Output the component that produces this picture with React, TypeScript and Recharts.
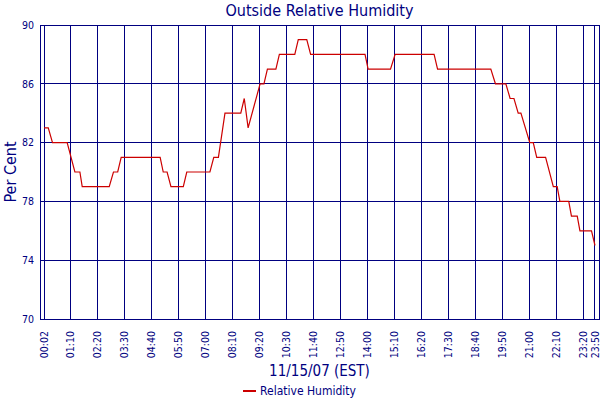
import { LineChart, Line, XAxis, YAxis, CartesianGrid, Legend, ReferenceArea, Label } from 'recharts'

const NAVY = '#000080'
const RED = '#cc0000'
const FONT = "'DejaVu Sans Condensed', 'DejaVu Sans', sans-serif"

// readings taken off the plot (time of day, per cent)
const times = [
  '00:02', '00:13', '00:24', '01:02', '01:22', '01:35', '01:41', '02:51', '03:02', '03:13',
  '03:22', '05:03', '05:11', '05:21', '05:31', '06:03', '06:12', '07:12', '07:22', '07:34',
  '07:51', '08:32', '08:41', '08:51', '09:22', '09:32', '09:41', '10:03', '10:12', '10:52',
  '11:01', '11:23', '11:33', '13:54', '14:02', '15:00', '15:12', '16:53', '17:02', '19:20',
  '19:32', '19:59', '20:10', '20:20', '20:31', '20:38', '21:01', '21:10', '21:19', '21:42',
  '22:02', '22:12', '22:19', '22:42', '22:49', '23:04', '23:11', '23:41', '23:50',
]
const humidity = [
  83, 83, 82, 82, 80, 80, 79, 79, 80, 80,
  81, 81, 80, 80, 79, 79, 80, 80, 81, 81,
  84, 84, 85, 83, 86, 86, 87, 87, 88, 88,
  89, 89, 88, 88, 87, 87, 88, 88, 87, 87,
  86, 86, 85, 85, 84, 84, 82, 82, 81, 81,
  79, 79, 78, 78, 77, 77, 76, 76, 75,
]
const xTickLabels = [
  '00:02', '01:10', '02:20', '03:30', '04:40', '05:50', '07:00', '08:10', '09:20', '10:30', '11:40',
  '12:50', '14:00', '15:10', '16:20', '17:30', '18:40', '19:50', '21:00', '22:10', '23:20', '23:50',
]
const yTicks = [70, 74, 78, 82, 86, 90]

const toMin = (s: string) => {
  const [h, m] = s.split(':').map(Number)
  return h * 60 + m
}
const fmtMin = (v: number) => {
  const h = Math.floor(v / 60)
  const m = v % 60
  return `${String(h).padStart(2, '0')}:${String(m).padStart(2, '0')}`
}

const data = times.map((t, i) => ({ t: toMin(t), rh: humidity[i] }))
const xTicks = xTickLabels.map(toMin)
const X_DOMAIN: [number, number] = [-8.4, 1440.4]

function TimeTick(props: any) {
  const { x, y, payload } = props
  return (
    <text
      x={x}
      y={y + 4}
      transform={`rotate(-90, ${x}, ${y + 4})`}
      textAnchor="end"
      dy="0.35em"
      fill={NAVY}
      fontSize={10.5}
      fontFamily={FONT}
    >
      {fmtMin(payload.value)}
    </text>
  )
}

function LegendContent() {
  return (
    <div style={{ display: 'flex', justifyContent: 'center', alignItems: 'center', paddingTop: 4, fontFamily: FONT, fontSize: 12, color: NAVY }}>
      <span style={{ display: 'inline-block', width: 13, height: 2, background: RED, marginRight: 4 }} />
      <span>Relative Humidity</span>
    </div>
  )
}

export default function App() {
  return (
    <div style={{ position: 'absolute', left: 0, top: 0, width: 600, height: 400, background: '#fff' }}>
      <div
        style={{
          position: 'absolute', left: 40, width: 559, top: 1, textAlign: 'center',
          fontFamily: FONT, fontSize: 16, color: NAVY,
        }}
      >
        Outside Relative Humidity
      </div>
      <LineChart width={600} height={400} data={data} margin={{ top: 25, right: 1, left: 0, bottom: 0 }}>
        <CartesianGrid stroke={NAVY} strokeWidth={1} shapeRendering="crispEdges" />
        <ReferenceArea
          x1={X_DOMAIN[0]} x2={X_DOMAIN[1]} y1={70} y2={90}
          fill="none" stroke={NAVY} strokeWidth={1} shapeRendering="crispEdges" ifOverflow="extendDomain"
        />
        <XAxis
          dataKey="t"
          type="number"
          domain={X_DOMAIN}
          ticks={xTicks}
          interval={0}
          tick={<TimeTick />}
          tickLine={false}
          axisLine={{ stroke: NAVY, shapeRendering: 'crispEdges' }}
          height={61}
        >
          <Label value="11/15/07 (EST)" position="insideBottom" offset={4} fill={NAVY} fontSize={15} fontFamily={FONT} />
        </XAxis>
        <YAxis
          domain={[70, 90]}
          ticks={yTicks}
          width={40}
          tickLine={false}
          tickSize={4}
          axisLine={{ stroke: NAVY, shapeRendering: 'crispEdges' }}
          tick={{ fill: NAVY, fontSize: 10.5, fontFamily: FONT }}
        >
          <Label value="Per Cent" angle={-90} position="insideLeft" offset={10} fill={NAVY} fontSize={16} fontFamily={FONT} style={{ textAnchor: 'middle' }} />
        </YAxis>
        <Legend verticalAlign="bottom" height={20} content={<LegendContent />} />
        <Line
          type="linear"
          dataKey="rh"
          stroke={RED}
          strokeWidth={1.2}
          dot={false}
          isAnimationActive={false}
        />
      </LineChart>
    </div>
  )
}
